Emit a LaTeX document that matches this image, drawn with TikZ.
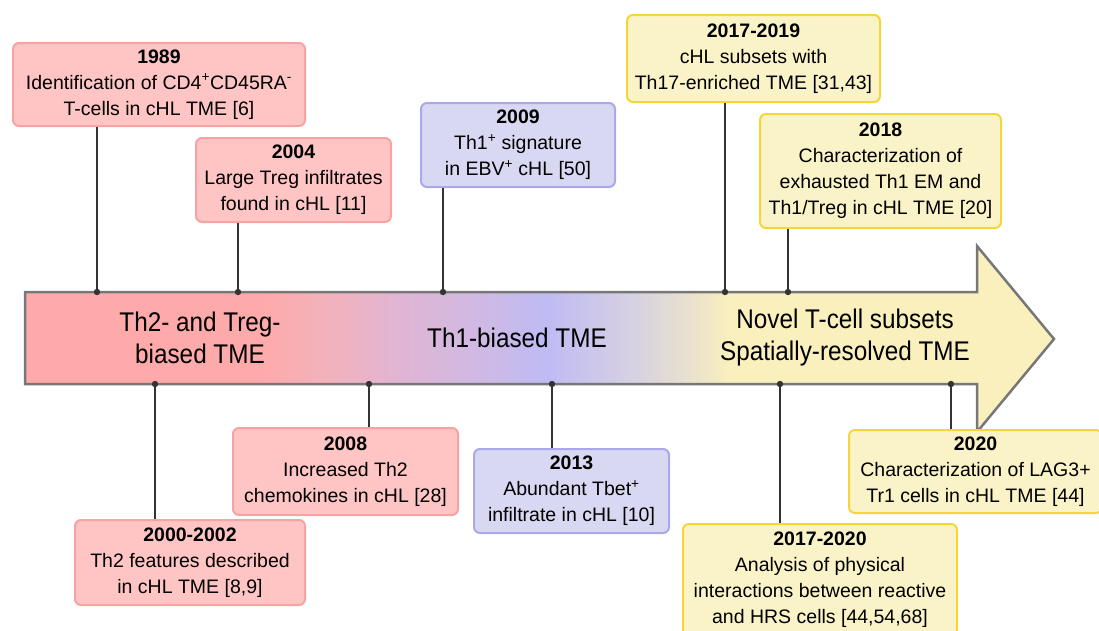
\documentclass[tikz,border=0pt]{standalone}
\usepackage{fontspec}
\setmainfont{Liberation Sans}
\newfontfamily\condfont[FakeStretch=0.9]{Liberation Sans}
\definecolor{pinkfill}{HTML}{FFC5C5}
\definecolor{pinkline}{HTML}{F7A3A3}
\definecolor{purpfill}{HTML}{D9D8F2}
\definecolor{purpline}{HTML}{AAA8E8}
\definecolor{yelfill}{HTML}{FBF3C8}
\definecolor{yelline}{HTML}{F5D63A}
\definecolor{arrline}{HTML}{777777}
\definecolor{connc}{HTML}{333333}
\definecolor{ga}{HTML}{FFAAAA}
\definecolor{gb}{HTML}{F2B2BC}
\definecolor{gc}{HTML}{E0B5D4}
\definecolor{gd}{HTML}{D2B9E2}
\definecolor{ge}{HTML}{BFBBF4}
\definecolor{gf}{HTML}{CDC8EA}
\definecolor{gg}{HTML}{DCD6DC}
\definecolor{gh}{HTML}{EDE4CA}
\definecolor{gi}{HTML}{FAF0BE}
\pgfdeclarehorizontalshading{tlshade}{100bp}{color(0bp)=(ga); color(25bp)=(ga); color(36.4bp)=(ga); color(39.8bp)=(gb); color(43.2bp)=(gc); color(46.6bp)=(gd); color(50.3bp)=(ge); color(52.9bp)=(gf); color(55.4bp)=(gg); color(57.8bp)=(gh); color(59.3bp)=(gi); color(75bp)=(gi); color(100bp)=(gi)}
\tikzset{
  evbox/.style={draw, rounded corners=6pt, line width=2pt, align=center, inner sep=0pt,
    font=\fontsize{19.5}{26}\selectfont},
  pinkbox/.style={evbox, fill=pinkfill, draw=pinkline},
  purpbox/.style={evbox, fill=purpfill, draw=purpline},
  yelbox/.style={evbox, fill=yelfill, draw=yelline},
  conn/.style={draw=connc, line width=1.5pt},
  dotc/.style={fill=connc},
  arrtext/.style={align=center, font=\condfont\fontsize{27}{32}\selectfont, inner sep=0pt}
}
\begin{document}
\begin{tikzpicture}[x=1pt,y=-1pt]
\useasboundingbox (0,0) rectangle (1099,630);
% main arrow
\path[shading=tlshade, draw=arrline, line width=2.5pt, line join=miter]
  (25,292) -- (977,292) -- (977,246) -- (1054,339) -- (977,432) -- (977,384) -- (25,384) -- cycle;
\node[arrtext] (lab1) at (200,338) {Th2- and Treg-\\biased TME};
\node[arrtext] (lab2) at (517,338) {Th1-biased TME};
\node[arrtext] (lab3) at (845,338) {Novel T-cell subsets\\Spatially-resolved TME};
% anchor points on the arrow
\coordinate (t1) at (97,292);
\coordinate (t2) at (238,292);
\coordinate (t3) at (443,292);
\coordinate (t4) at (725,292);
\coordinate (t5) at (788,292);
\coordinate (u1) at (155,384);
\coordinate (u2) at (369,384);
\coordinate (u3) at (552,384);
\coordinate (u4) at (780,384);
\coordinate (u5) at (951,384);
% boxes above
\node[pinkbox, minimum width=292pt, minimum height=83pt] (b1989) at (159,84.5)
  {\textbf{1989}\\Identification of CD4\textsuperscript{+}CD45RA\textsuperscript{-}\\T-cells in cHL TME [6]};
\node[pinkbox, minimum width=195pt, minimum height=84pt] (b2004) at (293.5,180)
  {\textbf{2004}\\Large Treg infiltrates\\found in cHL [11]};
\node[purpbox, minimum width=194pt, minimum height=84pt] (b2009) at (518,145)
  {\textbf{2009}\\Th1\textsuperscript{+} signature\\in EBV\textsuperscript{+} cHL [50]};
\node[yelbox, minimum width=253pt, minimum height=87pt] (b1719) at (753.5,58.5)
  {\textbf{2017-2019}\\cHL subsets with\\Th17-enriched TME [31,43]};
\node[yelbox, minimum width=241pt, minimum height=114pt] (b2018) at (880.5,171)
  {\textbf{2018}\\Characterization of\\exhausted Th1 EM and\\Th1/Treg in cHL TME [20]};
% boxes below
\node[pinkbox, minimum width=230pt, minimum height=85pt] (b2000) at (190,562.5)
  {\textbf{2000-2002}\\Th2 features described\\in cHL TME [8,9]};
\node[pinkbox, minimum width=225pt, minimum height=87pt] (b2008) at (345.5,471.5)
  {\textbf{2008}\\Increased Th2\\chemokines in cHL [28]};
\node[purpbox, minimum width=195pt, minimum height=84pt] (b2013) at (571.5,491)
  {\textbf{2013}\\Abundant Tbet\textsuperscript{+}\\infiltrate in cHL [10]};
\node[yelbox, minimum width=274pt, minimum height=112pt] (b1720) at (820,580)
  {\textbf{2017-2020}\\Analysis of physical\\interactions between reactive\\and HRS cells [44,54,68]};
\node[yelbox, minimum width=253pt, minimum height=83pt] (b2020) at (975.5,471.5)
  {\textbf{2020}\\Characterization of LAG3+\\Tr1 cells in cHL TME [44]};
% connectors
\draw[conn] (b1989.south -| t1) -- (t1);
\draw[conn] (b2004.south -| t2) -- (t2);
\draw[conn] (b2009.south -| t3) -- (t3);
\draw[conn] (b1719.south -| t4) -- (t4);
\draw[conn] (b2018.south -| t5) -- (t5);
\draw[conn] (b2000.north -| u1) -- (u1);
\draw[conn] (b2008.north -| u2) -- (u2);
\draw[conn] (b2013.north -| u3) -- (u3);
\draw[conn] (b1720.north -| u4) -- (u4);
\draw[conn] (b2020.north -| u5) -- (u5);
\foreach \p in {t1,t2,t3,t4,t5,u1,u2,u3,u4,u5} \fill[dotc] (\p) circle (3.2pt);
\end{tikzpicture}
\end{document}
